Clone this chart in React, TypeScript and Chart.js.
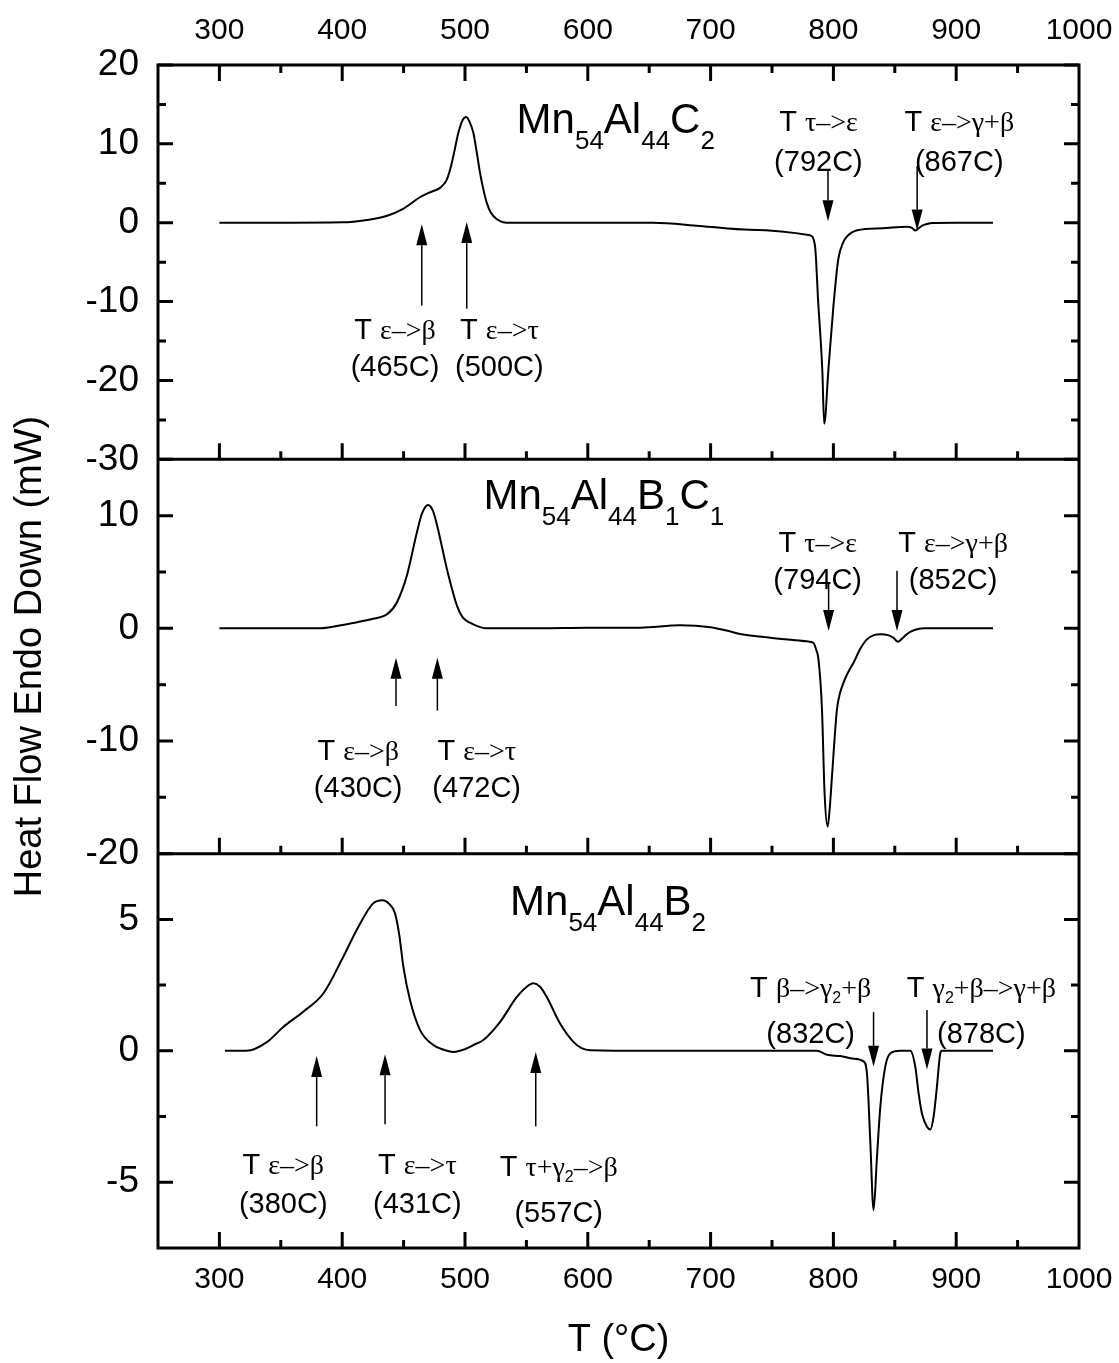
import React, { useEffect, useRef } from 'react';
import { Chart, registerables } from 'chart.js';

Chart.register(...registerables);

const SANS = "'Liberation Sans', Arial, Helvetica, sans-serif";
const SERIF = "'Liberation Serif', 'Times New Roman', Times, serif";

// ---------- axes ----------
const X_MIN = 250;
const X_MAX = 1000;
const X_LABELS = [300, 400, 500, 600, 700, 800, 900, 1000];
const X_MAJOR_MARKS = [300, 400, 500, 600, 700, 800, 900];
const X_MINOR_MARKS = [350, 450, 550, 650, 750, 850, 950];

const TOP_RANGE = [-30, 20];
const TOP_TICKS = [-30, -20, -10, 0, 10, 20];
const TOP_MINOR = [-25, -15, -5, 5, 15];

const MID_RANGE = [-20, 15];
const MID_TICKS = [-20, -10, 0, 10];
const MID_MINOR = [-15, -5, 5];

const BOT_RANGE = [-7.5, 7.5];
const BOT_TICKS = [-5, 0, 5];
const BOT_MINOR = [-2.5, 2.5];

// ---------- data: Mn54Al44C2 ----------
const C2_T = [300, 350, 400, 420, 436, 450, 463, 472, 480, 485, 488, 491, 494.6, 498, 501, 504, 506.8, 509.5, 512.2, 515, 517.7, 521, 526, 534, 600, 653, 691, 732, 781, 785, 787.6, 791, 792.5, 796, 800, 804, 808, 811.3, 819.5, 840, 860, 864, 866.5, 869, 872, 876, 881, 900, 930];
const C2_HF = [0, 0, 0.05, 0.35, 0.86, 1.8, 3.2, 3.9, 4.45, 5.4, 6.8, 8.8, 11.4, 13.0, 13.4, 12.7, 11.4, 9.0, 6.35, 4.2, 2.55, 1.3, 0.44, 0, 0, 0, -0.4, -0.9, -1.6, -2.9, -10, -18.8, -25.5, -18.5, -10.6, -4.6, -2.5, -1.7, -0.95, -0.7, -0.5, -0.65, -1.0, -0.75, -0.4, -0.15, -0.02, 0, 0];

// ---------- data: Mn54Al44B1C1 ----------
const B1C1_T = [300, 350, 382, 390, 410, 425, 436.5, 444.5, 452.7, 460.8, 465, 470, 474, 478, 485.3, 493.5, 498, 504, 510, 518, 560, 600, 643, 675, 700, 713, 724, 750, 778.4, 783.8, 786, 787.9, 790.7, 792.8, 795.3, 797, 798.8, 802.9, 805.5, 808.3, 812, 816.4, 822, 827.3, 833, 838.2, 844.5, 849, 852.5, 856, 860, 866, 873.5, 900, 930];
const B1C1_HF = [0, 0, 0, 0.1, 0.5, 0.85, 1.25, 2.3, 4.7, 8.5, 10.2, 10.95, 10.4, 8.8, 5.25, 2.0, 1.0, 0.5, 0.2, 0, 0, 0.05, 0.06, 0.27, 0.1, -0.2, -0.5, -0.85, -1.15, -1.3, -1.9, -2.8, -7.2, -14.6, -17.6, -16, -13.2, -7.2, -5.7, -4.8, -3.9, -3.05, -1.8, -0.98, -0.6, -0.53, -0.6, -0.85, -1.2, -0.9, -0.5, -0.15, 0, 0, 0];

// ---------- data: Mn54Al44B2 ----------
const B2_T = [304.5, 322, 339, 352, 368, 384.6, 400.9, 411.8, 425, 433, 438, 443, 446.5, 449.8, 455.2, 463.4, 474.2, 482, 490.5, 501.4, 506.8, 515, 528.6, 542.2, 550.3, 555.7, 561.1, 566.6, 577.4, 588.3, 595, 601.9, 650, 700, 786.6, 794.8, 805.6, 816.4, 824.5, 827.3, 830, 832.7, 835.5, 838.2, 842.2, 846.3, 854.4, 862.6, 866.7, 869.4, 872.1, 876.2, 878.9, 881.6, 884.3, 887, 888.4, 930];
const B2_HF = [0, 0, 0.34, 0.91, 1.48, 2.18, 3.58, 4.6, 5.6, 5.73, 5.6, 5.23, 4.4, 3.2, 1.93, 0.79, 0.22, 0.05, -0.04, 0.09, 0.22, 0.41, 1.1, 2.05, 2.44, 2.57, 2.44, 2.05, 1.04, 0.34, 0.1, 0.02, 0, 0, 0, -0.15, -0.2, -0.3, -0.4, -0.85, -3.4, -6.06, -4.03, -2.13, -0.61, -0.1, 0, 0, -0.61, -1.62, -2.38, -2.89, -2.99, -2.5, -1.37, -0.1, 0, 0];

// ---------- annotations ----------
type Run = [string, string];

const FORMULAS: { panel: string; x: number; y: number; runs: Run[] }[] = [
  { panel: 'yTop', x: 542, y: 11.4, runs: [['Mn', 'F'], ['54', 'f'], ['Al', 'F'], ['44', 'f'], ['C', 'F'], ['2', 'f']] },
  { panel: 'yMid', x: 515, y: 10.6, runs: [['Mn', 'F'], ['54', 'f'], ['Al', 'F'], ['44', 'f'], ['B', 'F'], ['1', 'f'], ['C', 'F'], ['1', 'f']] },
  { panel: 'yBot', x: 536.7, y: 5.17, runs: [['Mn', 'F'], ['54', 'f'], ['Al', 'F'], ['44', 'f'], ['B', 'F'], ['2', 'f']] },
];

const NOTES: { panel: string; x: number; y1: number; y2: number; l1: Run[]; l2: string }[] = [
  { panel: 'yTop', x: 443, y1: -14.75, y2: -19.4, l1: [['T ', 't'], ['ε–>β', 'g']], l2: '(465C)' },
  { panel: 'yTop', x: 528, y1: -14.75, y2: -19.4, l1: [['T ', 't'], ['ε–>τ', 'g']], l2: '(500C)' },
  { panel: 'yTop', x: 787.8, y1: 11.6, y2: 6.5, l1: [['T ', 't'], ['τ–>ε', 'g']], l2: '(792C)' },
  { panel: 'yTop', x: 902.5, y1: 11.6, y2: 6.5, l1: [['T ', 't'], ['ε–>γ+β', 'g']], l2: '(867C)' },
  { panel: 'yMid', x: 413, y1: -11.67, y2: -14.93, l1: [['T ', 't'], ['ε–>β', 'g']], l2: '(430C)' },
  { panel: 'yMid', x: 509.5, y1: -11.67, y2: -14.93, l1: [['T ', 't'], ['ε–>τ', 'g']], l2: '(472C)' },
  { panel: 'yMid', x: 787.2, y1: 6.74, y2: 3.47, l1: [['T ', 't'], ['τ–>ε', 'g']], l2: '(794C)' },
  { panel: 'yMid', x: 897.5, y1: 6.74, y2: 3.47, l1: [['T ', 't'], ['ε–>γ+β', 'g']], l2: '(852C)' },
  { panel: 'yBot', x: 352, y1: -4.7, y2: -6.18, l1: [['T ', 't'], ['ε–>β', 'g']], l2: '(380C)' },
  { panel: 'yBot', x: 461.2, y1: -4.7, y2: -6.18, l1: [['T ', 't'], ['ε–>τ', 'g']], l2: '(431C)' },
  { panel: 'yBot', x: 576.3, y1: -4.75, y2: -6.5, l1: [['T ', 't'], ['τ+γ', 'g'], ['2', 's'], ['–>β', 'g']], l2: '(557C)' },
  { panel: 'yBot', x: 781.5, y1: 2.05, y2: 0.29, l1: [['T ', 't'], ['β–>γ', 'g'], ['2', 's'], ['+β', 'g']], l2: '(832C)' },
  { panel: 'yBot', x: 920.5, y1: 2.05, y2: 0.29, l1: [['T ', 't'], ['γ', 'g'], ['2', 's'], ['+β–>γ+β', 'g']], l2: '(878C)' },
];

const ARROWS: { panel: string; x: number; from: number; to: number }[] = [
  { panel: 'yTop', x: 464.8, from: -10.5, to: -0.2 },
  { panel: 'yTop', x: 501.4, from: -10.9, to: 0.1 },
  { panel: 'yTop', x: 795.6, from: 6.8, to: 0.2 },
  { panel: 'yTop', x: 868.2, from: 7.2, to: -1.0 },
  { panel: 'yMid', x: 443.8, from: -6.9, to: -2.6 },
  { panel: 'yMid', x: 477.5, from: -7.3, to: -2.6 },
  { panel: 'yMid', x: 796.1, from: 4.1, to: -0.24 },
  { panel: 'yMid', x: 851.8, from: 5.1, to: -0.24 },
  { panel: 'yBot', x: 379.2, from: -2.87, to: -0.2 },
  { panel: 'yBot', x: 434.9, from: -2.79, to: -0.13 },
  { panel: 'yBot', x: 557.6, from: -2.87, to: -0.04 },
  { panel: 'yBot', x: 832.7, from: 1.48, to: -0.61 },
  { panel: 'yBot', x: 876.2, from: 1.55, to: -0.71 },
];

const FONTS: Record<string, string> = {
  t: `29px ${SANS}`,
  g: `28px ${SERIF}`,
  s: `16px ${SANS}`,
  F: `42px ${SANS}`,
  f: `26px ${SANS}`,
};
const OFFS: Record<string, number> = { t: 0, g: 0, s: 6, F: 0, f: 16 };

function drawRuns(ctx: CanvasRenderingContext2D, runs: Run[], x: number, y: number, center: boolean) {
  const widths = runs.map(([t, k]) => {
    ctx.font = FONTS[k];
    return ctx.measureText(t).width;
  });
  const total = widths.reduce((a, b) => a + b, 0);
  let cx = center ? x - total / 2 : x;
  runs.forEach(([t, k], i) => {
    ctx.font = FONTS[k];
    ctx.fillText(t, cx, y + OFFS[k]);
    cx += widths[i];
  });
}

const PANELS = [
  { id: 'yTop', major: TOP_TICKS, minor: TOP_MINOR },
  { id: 'yMid', major: MID_TICKS, minor: MID_MINOR },
  { id: 'yBot', major: BOT_TICKS, minor: BOT_MINOR },
];

const framePlugin = {
  id: 'frameNotes',
  afterDatasetsDraw(chart: any) {
    const ctx: CanvasRenderingContext2D = chart.ctx;
    const ca = chart.chartArea;
    const xs = chart.scales.x;
    ctx.save();
    ctx.strokeStyle = '#000';
    ctx.fillStyle = '#000';
    ctx.lineCap = 'butt';
    ctx.lineWidth = 3;

    // frame + dividers
    ctx.strokeRect(ca.left, ca.top, ca.right - ca.left, ca.bottom - ca.top);
    ctx.beginPath();
    for (let i = 0; i < PANELS.length - 1; i++) {
      const yb = chart.scales[PANELS[i].id].bottom;
      ctx.moveTo(ca.left, yb);
      ctx.lineTo(ca.right, yb);
    }
    ctx.stroke();

    // x tick marks: top edge (down), bottom of each panel (up)
    const edges = [{ y: ca.top, d: 1 }].concat(PANELS.map((p) => ({ y: chart.scales[p.id].bottom, d: -1 })));
    ctx.beginPath();
    edges.forEach(({ y, d }) => {
      X_MAJOR_MARKS.forEach((v) => {
        const px = xs.getPixelForValue(v);
        ctx.moveTo(px, y);
        ctx.lineTo(px, y + d * 16);
      });
      X_MINOR_MARKS.forEach((v) => {
        const px = xs.getPixelForValue(v);
        ctx.moveTo(px, y);
        ctx.lineTo(px, y + d * 8);
      });
    });
    // y tick marks on both sides, inward
    PANELS.forEach((p) => {
      const s = chart.scales[p.id];
      p.major.forEach((v) => {
        const py = s.getPixelForValue(v);
        ctx.moveTo(ca.left, py);
        ctx.lineTo(ca.left + 15, py);
        ctx.moveTo(ca.right, py);
        ctx.lineTo(ca.right - 15, py);
      });
      p.minor.forEach((v) => {
        const py = s.getPixelForValue(v);
        ctx.moveTo(ca.left, py);
        ctx.lineTo(ca.left + 8, py);
        ctx.moveTo(ca.right, py);
        ctx.lineTo(ca.right - 8, py);
      });
    });
    ctx.stroke();

    // arrows
    ARROWS.forEach((a) => {
      const s = chart.scales[a.panel];
      const x = xs.getPixelForValue(a.x);
      const y0 = s.getPixelForValue(a.from);
      const y1 = s.getPixelForValue(a.to);
      const dir = Math.sign(y1 - y0);
      const headLen = 21;
      const hw = 5.5;
      ctx.lineWidth = 1.5;
      ctx.beginPath();
      ctx.moveTo(x, y0);
      ctx.lineTo(x, y1 - dir * headLen);
      ctx.stroke();
      ctx.beginPath();
      ctx.moveTo(x, y1);
      ctx.lineTo(x - hw, y1 - dir * headLen);
      ctx.lineTo(x + hw, y1 - dir * headLen);
      ctx.closePath();
      ctx.fill();
    });

    // text
    ctx.textBaseline = 'alphabetic';
    ctx.textAlign = 'left';
    NOTES.forEach((n) => {
      const s = chart.scales[n.panel];
      const x = xs.getPixelForValue(n.x);
      drawRuns(ctx, n.l1, x, s.getPixelForValue(n.y1), true);
      drawRuns(ctx, [[n.l2, 't']], x, s.getPixelForValue(n.y2), true);
    });
    FORMULAS.forEach((f) => {
      const s = chart.scales[f.panel];
      drawRuns(ctx, f.runs, xs.getPixelForValue(f.x), s.getPixelForValue(f.y), false);
    });
    ctx.restore();
  },
};

function toPoints(t: number[], v: number[]) {
  return t.map((x, i) => ({ x, y: v[i] }));
}

function yAxis(range: number[], ticks: number[], weight: number, title?: string) {
  return {
    type: 'linear',
    position: 'left',
    stack: 'panels',
    stackWeight: 1,
    weight,
    min: range[0],
    max: range[1],
    offset: false,
    grid: { display: false, drawTicks: false, tickLength: 0 },
    border: { display: false },
    ticks: {
      font: { family: SANS, size: 37 },
      color: '#000',
      padding: 19,
      autoSkip: false,
      callback: (v: any) => String(v),
    },
    title: title
      ? { display: true, text: title, color: '#000', font: { family: SANS, size: 38 }, padding: { top: 8, bottom: 0 } }
      : { display: false },
    afterBuildTicks: (scale: any) => {
      scale.ticks = ticks.map((value) => ({ value }));
    },
    afterFit: (scale: any) => {
      scale.width = 158;
      scale.paddingTop = 0;
      scale.paddingBottom = 0;
    },
  };
}

function xAxis(position: string, padding: number, height: number, title?: string) {
  return {
    type: 'linear',
    position,
    min: X_MIN,
    max: X_MAX,
    offset: false,
    grid: { display: false, drawTicks: false, tickLength: 0 },
    border: { display: false },
    ticks: {
      font: { family: SANS, size: 30 },
      color: '#000',
      padding,
      autoSkip: false,
      maxRotation: 0,
      minRotation: 0,
      callback: (v: any) => String(v),
    },
    title: title
      ? { display: true, text: title, color: '#000', font: { family: SANS, size: 38 }, padding: { top: 0, bottom: 0 } }
      : { display: false },
    afterBuildTicks: (scale: any) => {
      scale.ticks = X_LABELS.map((value) => ({ value }));
    },
    afterFit: (scale: any) => {
      scale.height = height;
      scale.paddingLeft = 0;
      scale.paddingRight = 0;
    },
  };
}

export default function App() {
  const canvasRef = useRef<HTMLCanvasElement | null>(null);

  useEffect(() => {
    const canvas = canvasRef.current;
    if (!canvas) return;
    const line = { borderColor: '#000', borderWidth: 2, pointRadius: 0, cubicInterpolationMode: 'monotone', fill: false, xAxisID: 'x' };
    const chart = new Chart(canvas, {
      type: 'line',
      data: {
        datasets: [
          { ...line, label: 'Mn54Al44C2', yAxisID: 'yTop', data: toPoints(C2_T, C2_HF) },
          { ...line, label: 'Mn54Al44B1C1', yAxisID: 'yMid', data: toPoints(B1C1_T, B1C1_HF) },
          { ...line, label: 'Mn54Al44B2', yAxisID: 'yBot', data: toPoints(B2_T, B2_HF) },
        ] as any,
      },
      options: {
        animation: false,
        responsive: false,
        devicePixelRatio: 1,
        layout: { padding: { left: 0, right: 40, top: 0, bottom: 0 } },
        plugins: { legend: { display: false }, tooltip: { enabled: false } },
        scales: {
          x: xAxis('bottom', 14, 115, 'T (°C)'),
          x2: xAxis('top', 16, 65),
          yTop: yAxis(TOP_RANGE, TOP_TICKS, 3),
          yMid: yAxis(MID_RANGE, MID_TICKS, 2, 'Heat Flow Endo Down (mW)'),
          yBot: yAxis(BOT_RANGE, BOT_TICKS, 1),
        } as any,
      },
      plugins: [framePlugin],
    } as any);
    return () => chart.destroy();
  }, []);

  return (
    <div style={{ position: 'absolute', left: 0, top: 0, width: 1119, height: 1363, background: '#fff' }}>
      <canvas ref={canvasRef} width={1119} height={1363} style={{ display: 'block' }} />
    </div>
  );
}
